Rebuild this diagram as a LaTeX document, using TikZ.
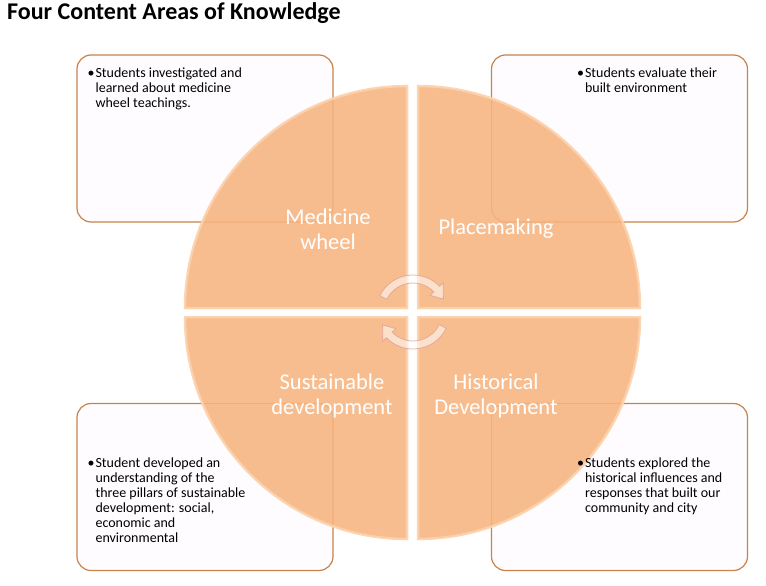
\documentclass[tikz,border=0pt]{standalone}
\usepackage{fontspec}
\setmainfont{Carlito}
\usetikzlibrary{calc}
\definecolor{wheelorange}{RGB}{247,180,127}
\definecolor{wheeledge}{RGB}{252,210,172}
\definecolor{boxline}{RGB}{200,130,74}
\definecolor{boxfill}{RGB}{255,252,255}
\definecolor{arrowline}{RGB}{222,160,150}

\begin{document}
\begin{tikzpicture}[x=1pt,y=-1pt,
  infobox/.style={draw=boxline, fill=boxfill, line width=1.2pt, rounded corners=14pt,
    minimum width=256pt, minimum height=167pt, inner sep=0pt},
  quarter/.style={fill=wheelorange, fill opacity=0.88, draw=wheeledge, draw opacity=0.9, line width=2.5pt},
  boxtext/.style={anchor=north west, inner sep=0pt, font=\fontsize{14}{15}\selectfont},
  wheeltext/.style={text=white, align=center, font=\fontsize{22.5}{25}\selectfont},
  turn/.style={fill=white, fill opacity=0.55, draw=arrowline, draw opacity=0.8, line width=0.8pt}]
\useasboundingbox (0,0) rectangle (766,586);

\node[anchor=north west, inner sep=0pt, font=\fontsize{24}{28}\selectfont\bfseries] (title) at (7,2) {Four Content Areas of Knowledge};

% boxes behind the wheel
\node[infobox] (wheelbox) at (205,138.5) {};
\node[infobox] (placebox) at (619.5,138.5) {};
\node[infobox] (sustbox) at (205,487) {};
\node[infobox] (histbox) at (619.5,487) {};

% the four quarters
\path[quarter] (407,308) -- (185,308) arc[start angle=180, end angle=270, radius=222] -- cycle;
\path[quarter] (418,308) -- (418,86) arc[start angle=270, end angle=360, radius=222] -- cycle;
\path[quarter] (407,317) -- (407,539) arc[start angle=90, end angle=180, radius=222] -- cycle;
\path[quarter] (418,317) -- (640,317) arc[start angle=0, end angle=90, radius=222] -- cycle;

\node[wheeltext] (medicine) at (328,229) {Medicine\\wheel};
\node[wheeltext] (placemaking) at (496,229) {Placemaking};
\node[wheeltext] (sustainable) at (332,396) {Sustainable\\development};
\node[wheeltext] (historical) at (496,396) {Historical\\Development};

% turning arrows in the middle
\coordinate (hub) at (413,312);
\path[turn] ($(hub)+(206:37)$) arc[start angle=206, end angle=316, radius=37]
  -- ($(hub)+(316:42)$) -- ($(hub)+(337:33)$) -- ($(hub)+(316:24)$)
  -- ($(hub)+(316:29)$) arc[start angle=316, end angle=206, radius=29] -- cycle;
\path[turn] ($(hub)+(26:37)$) arc[start angle=26, end angle=136, radius=37]
  -- ($(hub)+(136:42)$) -- ($(hub)+(157:33)$) -- ($(hub)+(136:24)$)
  -- ($(hub)+(136:29)$) arc[start angle=136, end angle=26, radius=29] -- cycle;

% box texts
\node[boxtext] (wheeltxt) at ($(wheelbox.north west)+(11,12)$) {\begin{tabular}{@{}l@{\hspace{1pt}}l@{}}
  \textbullet & Students investigated and\\ & learned about medicine\\ & wheel teachings.\end{tabular}};
\node[boxtext] (placetxt) at ($(placebox.north west)+(86,12)$) {\begin{tabular}{@{}l@{\hspace{1pt}}l@{}}
  \textbullet & Students evaluate their\\ & built environment\end{tabular}};
\node[boxtext] (susttxt) at ($(sustbox.north west)+(11,54)$) {\begin{tabular}{@{}l@{\hspace{1pt}}l@{}}
  \textbullet & Student developed an\\ & understanding of the\\ & three pillars of sustainable\\
  & development: social,\\ & economic and\\ & environmental\end{tabular}};
\node[boxtext] (histtxt) at ($(histbox.north west)+(86,54)$) {\begin{tabular}{@{}l@{\hspace{1pt}}l@{}}
  \textbullet & Students explored the\\ & historical influences and\\ & responses that built our\\
  & community and city\end{tabular}};
\end{tikzpicture}
\end{document}
